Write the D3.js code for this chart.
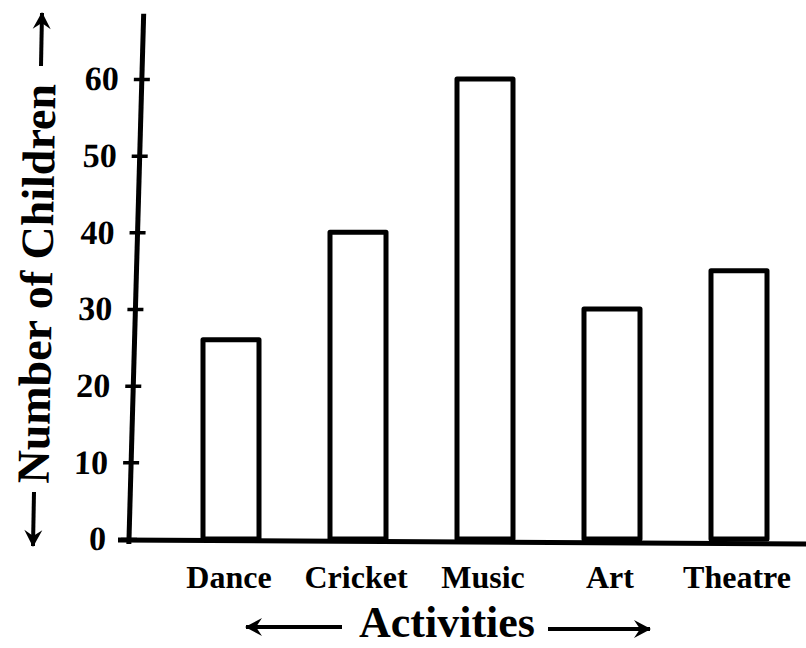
<!DOCTYPE html>
<html>
<head>
<meta charset="utf-8">
<script src="https://cdn.jsdelivr.net/npm/d3@7"></script>
<style>
  html, body { margin: 0; padding: 0; background: #fff; }
  text { font-family: "Liberation Serif", "Times New Roman", serif; font-weight: bold; fill: #000; }
</style>
</head>
<body>
<svg id="chart" width="806" height="648"></svg>
<script>
// activities and number of children
var activities = ['Dance', 'Cricket', 'Music', 'Art', 'Theatre'];
var children = [26, 40, 60, 30, 35];
var yTicks = [0, 10, 20, 30, 40, 50, 60];
var xTitle = 'Activities';
var yTitle = 'Number of Children';

var W = 806, H = 648;
var svg = d3.select('#chart');
svg.append('rect').attr('width', W).attr('height', H).attr('fill', '#fff');

var y = d3.scaleLinear().domain([0, 60]).range([539, 79]);
var yAxisMax = 68.5; // axis line runs a bit past the last tick
var x = d3.scaleBand().domain(activities)
    .range([139.5, 830.5]).paddingInner(0.559).paddingOuter(0.5);

var axisX = 129;
var lean = -1.6; // the hand-drawn y axis leans to the right

// bars
svg.append('g').selectAll('rect')
    .data(activities)
    .enter().append('rect')
    .attr('x', function(d) { return x(d); })
    .attr('y', function(d, i) { return y(children[i]); })
    .attr('width', x.bandwidth())
    .attr('height', function(d, i) { return y(0) - y(children[i]); })
    .attr('fill', '#fff')
    .attr('stroke', '#000')
    .attr('stroke-width', 5)
    .attr('stroke-linejoin', 'round');

// x axis line
svg.append('line')
    .attr('x1', axisX - 11).attr('x2', W)
    .attr('y1', y(0) + 1).attr('y2', y(0) + 5)
    .attr('stroke', '#000').attr('stroke-width', 5);

// y axis
var yg = svg.append('g')
    .attr('transform', 'translate(' + axisX + ',' + y(0) + ') skewX(' + lean + ') translate(0,' + (-y(0)) + ')')
    .call(d3.axisLeft(y).tickValues(yTicks).tickSize(8).tickPadding(15));
yg.select('.domain').remove();
yg.selectAll('.tick line')
    .attr('x1', -8).attr('x2', 8)
    .attr('stroke', '#000').attr('stroke-width', 3.5);
yg.selectAll('.tick text')
    .attr('font-size', 34)
    .attr('font-family', '"Liberation Serif", serif')
    .attr('font-weight', 'bold')
    .attr('fill', '#000');
yg.append('line')
    .attr('x1', 0).attr('x2', 0)
    .attr('y1', y(0) + 5).attr('y2', y(yAxisMax))
    .attr('stroke', '#000').attr('stroke-width', 5);

// category labels
svg.append('g').selectAll('text')
    .data(activities)
    .enter().append('text')
    .attr('x', function(d) { return x(d) + x.bandwidth() / 2 - 2; })
    .attr('y', 588)
    .attr('text-anchor', 'middle')
    .attr('font-size', 32)
    .text(function(d) { return d; });

// arrow helper: shaft plus a solid barbed head at (x2, y2)
function arrow(x1, y1, x2, y2) {
    var a = Math.atan2(y2 - y1, x2 - x1);
    var g = svg.append('g');
    g.append('line')
        .attr('x1', x1).attr('y1', y1).attr('x2', x2).attr('y2', y2)
        .attr('stroke', '#000').attr('stroke-width', 4);
    var head = [[1, 0], [-16, -9], [-10, 0], [-16, 9]];
    g.append('path')
        .attr('d', d3.line()(head) + 'Z')
        .attr('fill', '#000')
        .attr('transform', 'translate(' + x2 + ',' + y2 + ') rotate(' + (a * 180 / Math.PI) + ')');
}

// x title with arrows
svg.append('text')
    .attr('x', 447).attr('y', 637)
    .attr('text-anchor', 'middle')
    .attr('font-size', 44)
    .text(xTitle);
arrow(342, 627, 246, 627);
arrow(548, 629, 650, 629);

// y title with arrows
svg.append('text')
    .attr('transform', 'translate(52,284) rotate(-89)')
    .attr('text-anchor', 'middle')
    .attr('font-size', 46)
    .text(yTitle);
arrow(41, 66, 42, 13);
arrow(34, 492, 33, 546);
</script>
</body>
</html>
